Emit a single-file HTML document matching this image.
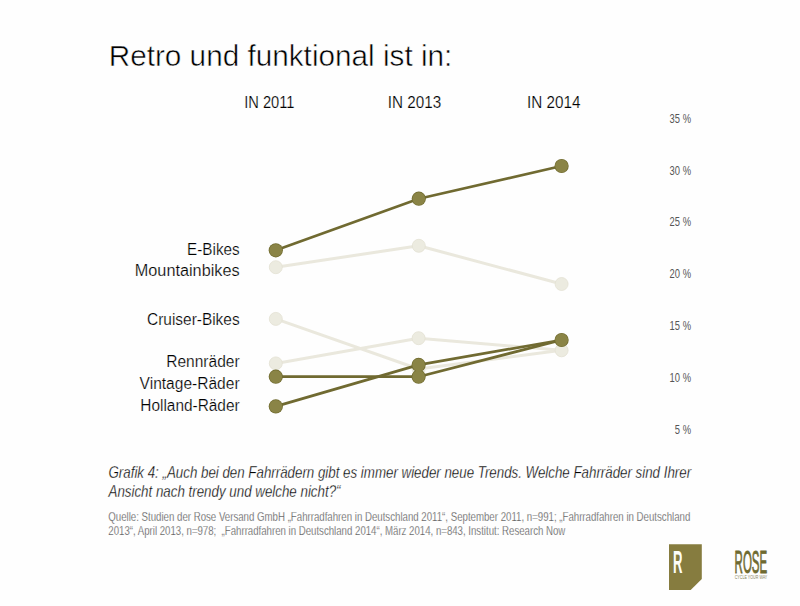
<!DOCTYPE html>
<html><head><meta charset="utf-8">
<style>
html,body{margin:0;padding:0;background:#fefefe;}
body{width:800px;height:606px;overflow:hidden;position:relative;font-family:"Liberation Sans",sans-serif;}
svg{position:absolute;left:0;top:0;}
</style></head>
<body>
<svg width="800" height="606" viewBox="0 0 800 606">
<g font-family="Liberation Sans" fill="#000" stroke="#fefefe" stroke-width="0.2">
<text x="108.7" y="66.1" font-size="28.6" textLength="343.6" stroke="#fefefe" stroke-width="0.5" fill="#000" lengthAdjust="spacingAndGlyphs">Retro und funktional ist in:</text>
<text x="244.2" y="108" font-size="16" textLength="50.3" lengthAdjust="spacingAndGlyphs">IN 2011</text>
<text x="387.8" y="108" font-size="16" textLength="53.4" lengthAdjust="spacingAndGlyphs">IN 2013</text>
<text x="527" y="108" font-size="16" textLength="53.4" lengthAdjust="spacingAndGlyphs">IN 2014</text>
</g>
<g font-family="Liberation Sans" font-size="16" fill="#000" text-anchor="end" stroke="#fefefe" stroke-width="0.22">
<text x="239.6" y="254.7" textLength="52.5" lengthAdjust="spacingAndGlyphs">E-Bikes</text>
<text x="239.6" y="275.6" textLength="104.8" lengthAdjust="spacingAndGlyphs">Mountainbikes</text>
<text x="239.6" y="324.5" textLength="92.5" lengthAdjust="spacingAndGlyphs">Cruiser-Bikes</text>
<text x="239.6" y="367.2" textLength="73.4" lengthAdjust="spacingAndGlyphs">Rennräder</text>
<text x="239.6" y="388.8" textLength="100" lengthAdjust="spacingAndGlyphs">Vintage-Räder</text>
<text x="239.6" y="411" textLength="99.3" lengthAdjust="spacingAndGlyphs">Holland-Räder</text>
</g>
<g font-family="Liberation Sans" font-size="12.7" fill="#555" text-anchor="end" transform="translate(691,0) scale(0.74,1)">
<text x="0" y="122.75">35 %</text>
<text x="0" y="174.6">30 %</text>
<text x="0" y="226.4">25 %</text>
<text x="0" y="278.2">20 %</text>
<text x="0" y="330.1">15 %</text>
<text x="0" y="381.9">10 %</text>
<text x="0" y="433.75">5 %</text>
</g>
<!-- light lines -->
<g fill="none" stroke="#eae8dd" stroke-width="3" stroke-linejoin="round">
<polyline points="275.8,267.2 418.8,245.8 561.6,284"/>
<polyline points="275.8,318.9 418.6,369 561.6,350.3"/>
<polyline points="275.8,363.4 418.6,338.2 561.6,350.3"/>
</g>
<g fill="#ecebe0" stroke="#e3e1d3" stroke-width="0.8">
<circle cx="275.8" cy="267.2" r="6.5"/><circle cx="418.8" cy="245.8" r="6.5"/><circle cx="561.6" cy="284" r="6.5"/>
<circle cx="275.8" cy="318.9" r="6.5"/><circle cx="418.6" cy="369" r="6.5"/><circle cx="561.6" cy="350.3" r="6.5"/>
<circle cx="275.8" cy="363.4" r="6.5"/><circle cx="418.6" cy="338.2" r="6.5"/>
</g>
<!-- dark lines -->
<g fill="none" stroke="#706a31" stroke-width="2.7" stroke-linejoin="round">
<polyline points="275.8,250.3 418.8,198.7 561.6,166"/>
<polyline points="275.8,376.7 418.6,376.7 561.6,340"/>
<polyline points="275.8,406.4 418.6,364.9 561.6,340"/>
</g>
<g fill="#6f6a2e"><circle cx="275.8" cy="250.3" r="7.1"/><circle cx="418.8" cy="198.7" r="7.1"/><circle cx="561.6" cy="166" r="7.1"/><circle cx="275.8" cy="376.7" r="7.1"/><circle cx="418.6" cy="376.7" r="7.1"/><circle cx="561.6" cy="340" r="7.1"/><circle cx="275.8" cy="406.4" r="7.1"/><circle cx="418.6" cy="364.9" r="7.1"/></g>
<g fill="#8a8446"><circle cx="275.8" cy="250.3" r="6.4"/><circle cx="418.8" cy="198.7" r="6.4"/><circle cx="561.6" cy="166" r="6.4"/><circle cx="275.8" cy="376.7" r="6.4"/><circle cx="418.6" cy="376.7" r="6.4"/><circle cx="561.6" cy="340" r="6.4"/><circle cx="275.8" cy="406.4" r="6.4"/><circle cx="418.6" cy="364.9" r="6.4"/></g>
<!-- caption -->
<g font-family="Liberation Sans" font-style="italic" font-size="16.6" fill="#000" stroke="#fefefe" stroke-width="0.3">
<text x="108.5" y="477.8" textLength="582.6" lengthAdjust="spacingAndGlyphs">Grafik 4: „Auch bei den Fahrrädern gibt es immer wieder neue Trends. Welche Fahrräder sind Ihrer</text>
<text x="108.5" y="497.1" textLength="232" lengthAdjust="spacingAndGlyphs">Ansicht nach trendy und welche nicht?“</text>
</g>
<g font-family="Liberation Sans" font-size="12.2" fill="#4e4e4e" stroke="#fefefe" stroke-width="0.25">
<text x="108.3" y="520.6" textLength="582" lengthAdjust="spacingAndGlyphs">Quelle: Studien der Rose Versand GmbH „Fahrradfahren in Deutschland 2011“, September 2011, n=991; „Fahrradfahren in Deutschland</text>
<text x="108.3" y="534.9" textLength="457" lengthAdjust="spacingAndGlyphs">2013“, April 2013, n=978;&#160; „Fahrradfahren in Deutschland 2014“, März 2014, n=843, Institut: Research Now</text>
</g>
<!-- logos -->
<path d="M669,544.2 H701.8 V579.1 L690.7,590 H669 Z" fill="#867c3f"/>
<text x="673" y="573" font-family="Liberation Sans" font-size="31" font-weight="bold" fill="#fdfdf8" textLength="9.5" lengthAdjust="spacingAndGlyphs">R</text>
<text x="734.6" y="572.6" font-family="Liberation Sans" font-size="31.6" fill="#6f6a30" stroke="#6f6a30" stroke-width="0.9" textLength="32.6" lengthAdjust="spacingAndGlyphs">ROSE</text>
<text x="734.7" y="578.9" font-family="Liberation Sans" font-size="4.6" fill="#8a8660" textLength="32.6" lengthAdjust="spacingAndGlyphs">CYCLE YOUR WAY</text>
</svg>
</body></html>
